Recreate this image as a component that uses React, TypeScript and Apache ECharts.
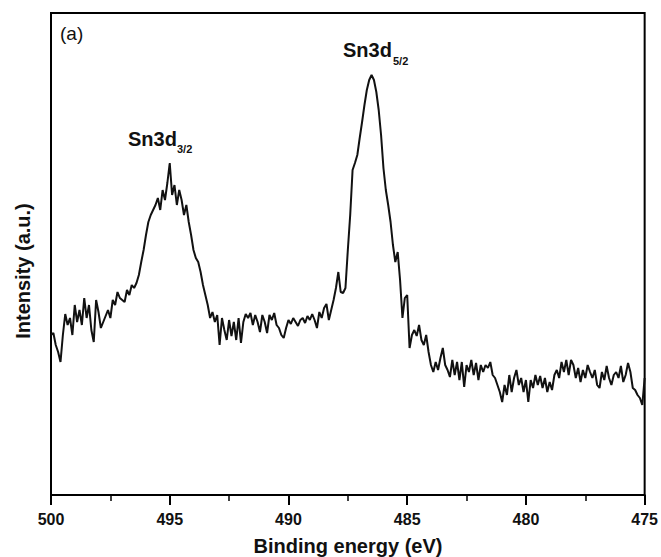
import React, { useEffect, useRef } from "react";
import * as echarts from "echarts";

// Binding energy grid (eV): sampled every 0.1 eV from 500 down to 475
const ENERGY_START = 500;
const ENERGY_STEP = 0.1;

// Intensity (a.u.), in order of decreasing binding energy
const baselineHigh = [
  160, 162, 150, 143, 133, 160, 181, 170, 177, 160, 190, 173, 185, 170, 197, 177, 190, 165, 153, 195,
  183, 167, 173, 179, 185, 177, 195, 190, 203, 197, 195, 193, 205, 200, 210, 207, 212, 220, 233, 245,
];
const peakSn3d32 = [
  260, 273, 280, 285, 290, 297, 285, 305, 295, 312, 332, 300, 310, 290, 305, 295, 280, 290, 273, 260,
  245, 237, 233, 223, 210, 200, 190, 177, 183, 173,
];
const valley = [
  180, 150, 177, 165, 155, 175, 159, 173, 155, 177, 152, 173, 181, 177, 182, 170, 180, 173, 163, 180,
  173, 162, 180, 175, 182, 170, 167, 160, 157, 167, 175, 171, 177, 173, 169, 175, 177, 172, 179, 175,
  181, 175, 167, 183, 177, 187, 191, 175, 185, 195, 207, 223, 203, 202, 207, 245,
];
const peakSn3d52 = [
  280, 325, 332, 340, 357, 373, 390, 405, 415, 420, 415, 403, 385, 360, 327, 305, 290, 273, 250, 233,
  243, 215, 177, 197, 200, 147,
];
const tail = [
  160, 165, 159, 170, 155, 150, 160, 143, 130, 123, 133, 125, 137, 147, 130, 125, 118, 135, 120, 133,
  115, 133, 108, 130, 123, 135, 120, 132, 115, 130, 123, 130, 127, 133, 120, 117, 110, 103, 93, 110,
  100, 120, 103, 117, 125, 110, 117, 103, 115, 93, 115, 107, 120, 110, 119, 107, 117, 103, 113, 105,
  120, 125, 117, 133, 123, 135, 120, 135, 130, 117, 127, 113, 125, 117, 130, 123, 117, 125, 110, 107,
  123, 115, 129, 117, 110, 120, 123, 117, 129, 113, 120, 132, 123, 107, 105, 100, 97, 90, 117,
];

const xTicks = [500, 495, 490, 485, 480, 475];

const intensity = [...baselineHigh, ...peakSn3d32, ...valley, ...peakSn3d52, ...tail];

const FONT = "'Liberation Sans', Arial, Helvetica, sans-serif";

export default function App() {
  const ref = useRef<HTMLDivElement>(null);

  useEffect(() => {
    if (!ref.current) return;
    const chart = echarts.init(ref.current, null, { renderer: "svg" });
    const data = intensity.map((v, i) => [
      Math.round((ENERGY_START - i * ENERGY_STEP) * 10) / 10,
      v,
    ]);
    chart.setOption({
      animation: false,
      backgroundColor: "#ffffff",
      grid: {
        left: 51,
        right: 16,
        top: 13,
        bottom: 62,
        show: true,
        borderColor: "#000",
        borderWidth: 2,
        backgroundColor: "transparent",
      },
      xAxis: {
        type: "value",
        min: xTicks[xTicks.length - 1],
        max: xTicks[0],
        interval: 5,
        inverse: true,
        axisLine: { show: true, lineStyle: { color: "#000", width: 2 } },
        axisTick: { show: true, inside: false, length: 10, lineStyle: { color: "#000", width: 2 } },
        minorTick: { show: true, splitNumber: 2, length: 6, lineStyle: { color: "#000", width: 1.5 } },
        splitLine: { show: false },
        axisLabel: {
          fontSize: 16,
          fontWeight: "bold",
          color: "#111",
          fontFamily: FONT,
          margin: 16,
        },
      },
      yAxis: {
        type: "value",
        min: 0,
        max: 482,
        axisLine: { show: true, lineStyle: { color: "#000", width: 2 } },
        axisTick: { show: false },
        axisLabel: { show: false },
        splitLine: { show: false },
      },
      series: [
        {
          type: "line",
          data,
          showSymbol: false,
          symbol: "none",
          lineStyle: { color: "#111", width: 2 },
          z: 3,
        },
      ],
      graphic: [
        {
          type: "text",
          left: 60,
          top: 24,
          style: { text: "(a)", fontSize: 19, fill: "#111", fontFamily: FONT },
        },
        {
          type: "text",
          x: 348,
          y: 546,
          style: {
            text: "Binding energy (eV)",
            fontSize: 20,
            fontWeight: "bold",
            fill: "#111",
            fontFamily: FONT,
            textAlign: "center",
            textVerticalAlign: "middle",
          },
        },
        {
          type: "text",
          x: 23,
          y: 271,
          rotation: Math.PI / 2,
          style: {
            text: "Intensity (a.u.)",
            fontSize: 20,
            fontWeight: "bold",
            fill: "#111",
            fontFamily: FONT,
            textAlign: "center",
            textVerticalAlign: "middle",
          },
        },
        {
          type: "text",
          x: 128,
          y: 139,
          style: {
            text: "Sn3d",
            fontSize: 20,
            fontWeight: "bold",
            fill: "#111",
            fontFamily: FONT,
            textAlign: "left",
            textVerticalAlign: "middle",
          },
        },
        {
          type: "text",
          x: 177,
          y: 149,
          style: {
            text: "3/2",
            fontSize: 11,
            fontWeight: "bold",
            fill: "#111",
            fontFamily: FONT,
            textAlign: "left",
            textVerticalAlign: "middle",
          },
        },
        {
          type: "text",
          x: 343,
          y: 50,
          style: {
            text: "Sn3d",
            fontSize: 20,
            fontWeight: "bold",
            fill: "#111",
            fontFamily: FONT,
            textAlign: "left",
            textVerticalAlign: "middle",
          },
        },
        {
          type: "text",
          x: 393,
          y: 61,
          style: {
            text: "5/2",
            fontSize: 11,
            fontWeight: "bold",
            fill: "#111",
            fontFamily: FONT,
            textAlign: "left",
            textVerticalAlign: "middle",
          },
        },
      ],
    });
    return () => chart.dispose();
  }, []);

  return (
    <div
      ref={ref}
      style={{ position: "absolute", left: 0, top: 0, width: 661, height: 557 }}
    />
  );
}
